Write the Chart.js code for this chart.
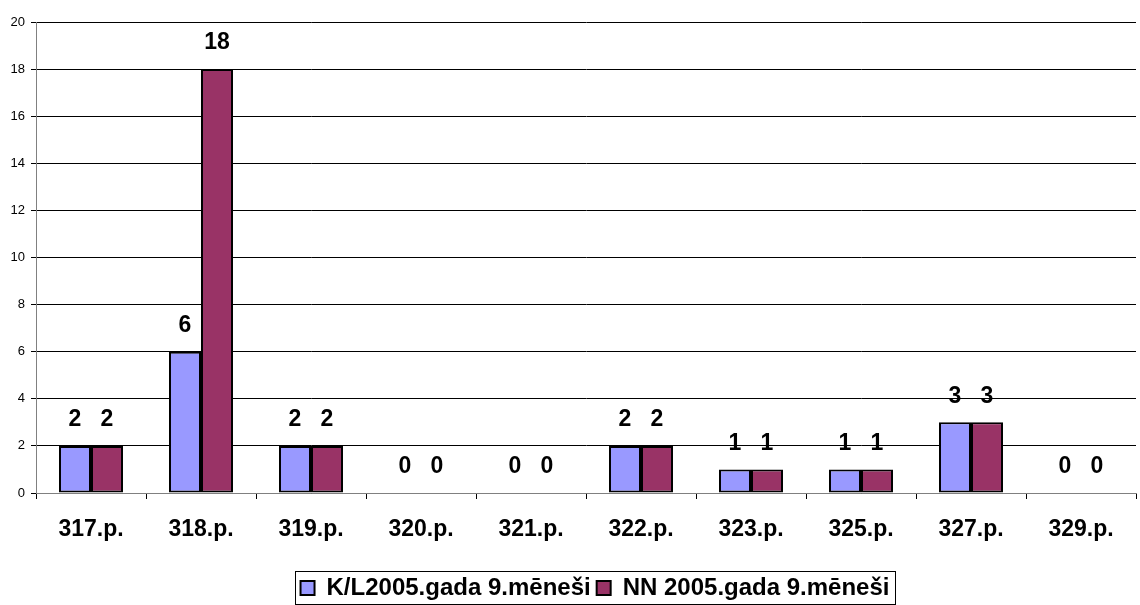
<!DOCTYPE html>
<html>
<head>
<meta charset="utf-8">
<script src="https://cdn.jsdelivr.net/npm/chart.js@4"></script>
<style>
  html, body { margin: 0; padding: 0; background: #fff; }
  #wrap { width: 1140px; height: 605px; }
</style>
</head>
<body>
<div id="wrap"><canvas id="chart" width="1140" height="605"></canvas></div>
<script>
const categories = ['317.p.', '318.p.', '319.p.', '320.p.', '321.p.', '322.p.', '323.p.', '325.p.', '327.p.', '329.p.'];
const seriesKL = [2, 6, 2, 0, 0, 2, 1, 1, 3, 0];
const seriesNN = [2, 18, 2, 0, 0, 2, 1, 1, 3, 0];
const seriesNames = ['K/L2005.gada 9.mēneši', 'NN 2005.gada 9.mēneši'];
const yTicks = [0, 2, 4, 6, 8, 10, 12, 14, 16, 18, 20];

const FONT = 'Arial, "Liberation Sans", sans-serif';

// value labels above each bar
const barLabels = {
    id: 'barLabels',
    afterDatasetsDraw(chart) {
        const ctx = chart.ctx;
        ctx.save();
        ctx.font = 'bold 23px ' + FONT;
        ctx.fillStyle = '#000';
        ctx.textAlign = 'center';
        ctx.textBaseline = 'middle';
        chart.data.datasets.forEach(function (ds, i) {
            chart.getDatasetMeta(i).data.forEach(function (bar, j) {
                ctx.fillText(String(ds.data[j]), bar.x, bar.y - 26);
            });
        });
        ctx.restore();
    }
};

// legend sits a bit right of centre and lower in the original
const legendShift = {
    id: 'legendShift',
    afterLayout(chart) {
        const lg = chart.legend;
        if (!lg) return;
        lg.left += 27; lg.right += 27;
        lg.top += 6; lg.bottom += 6;
    }
};

// frame around the legend items
const legendFrame = {
    id: 'legendFrame',
    afterDraw(chart) {
        const boxes = chart.legend && chart.legend.legendHitBoxes;
        if (!boxes || !boxes.length) return;
        const first = boxes[0], last = boxes[boxes.length - 1];
        const x0 = Math.round(first.left) - 5.5;
        const x1 = Math.round(last.left + last.width) + 6.5;
        const y0 = Math.round(first.top) - 4.5;
        const y1 = Math.round(first.top + first.height) + 4.5;
        const ctx = chart.ctx;
        ctx.save();
        ctx.strokeStyle = '#000';
        ctx.lineWidth = 1;
        ctx.strokeRect(x0, y0, x1 - x0, y1 - y0);
        ctx.restore();
    }
};

const ctx = document.getElementById('chart').getContext('2d');
const chart = new Chart(ctx, {
    type: 'bar',
    data: {
        labels: categories,
        datasets: [{
            label: seriesNames[0],
            data: seriesKL,
            backgroundColor: '#9999FF',
            borderColor: '#000',
            borderWidth: 2,
            borderSkipped: false
        }, {
            label: seriesNames[1],
            data: seriesNN,
            backgroundColor: '#993366',
            borderColor: '#000',
            borderWidth: 2,
            borderSkipped: false
        }]
    },
    options: {
        responsive: false,
        animation: false,
        layout: { padding: { top: 22, right: 4, left: 0, bottom: 1 } },
        datasets: { bar: { categoryPercentage: 0.582, barPercentage: 1.0 } },
        plugins: {
            legend: {
                position: 'bottom',
                labels: {
                    font: { family: FONT, size: 24, weight: 'bold' },
                    color: '#000',
                    boxWidth: 14,
                    boxHeight: 14,
                    padding: 6,
                    generateLabels(chart) {
                        return chart.data.datasets.map(function (ds, i) {
                            return {
                                text: ds.label,
                                fillStyle: ds.backgroundColor,
                                strokeStyle: '#000',
                                lineWidth: 2,
                                fontColor: '#000',
                                datasetIndex: i
                            };
                        });
                    }
                }
            },
            tooltip: { enabled: false }
        },
        scales: {
            x: {
                afterFit(axis) { axis.height = 71; },
                grid: { offset: true, drawOnChartArea: false, color: '#000', tickLength: 6 },
                border: { color: '#808080' },
                ticks: {
                    font: { family: FONT, size: 23, weight: 'bold' },
                    color: '#000',
                    padding: 17
                }
            },
            y: {
                min: 0,
                max: 20,
                afterFit(axis) { axis.width = 36; },
                afterBuildTicks(axis) {
                    axis.ticks = yTicks.map(function (v) { return { value: v }; });
                },
                grid: { color: '#000', tickLength: 5 },
                border: { color: '#808080' },
                ticks: {
                    font: { family: FONT, size: 13 },
                    color: '#000',
                    padding: 6
                }
            }
        }
    },
    plugins: [barLabels, legendShift, legendFrame]
});
</script>
</body>
</html>
